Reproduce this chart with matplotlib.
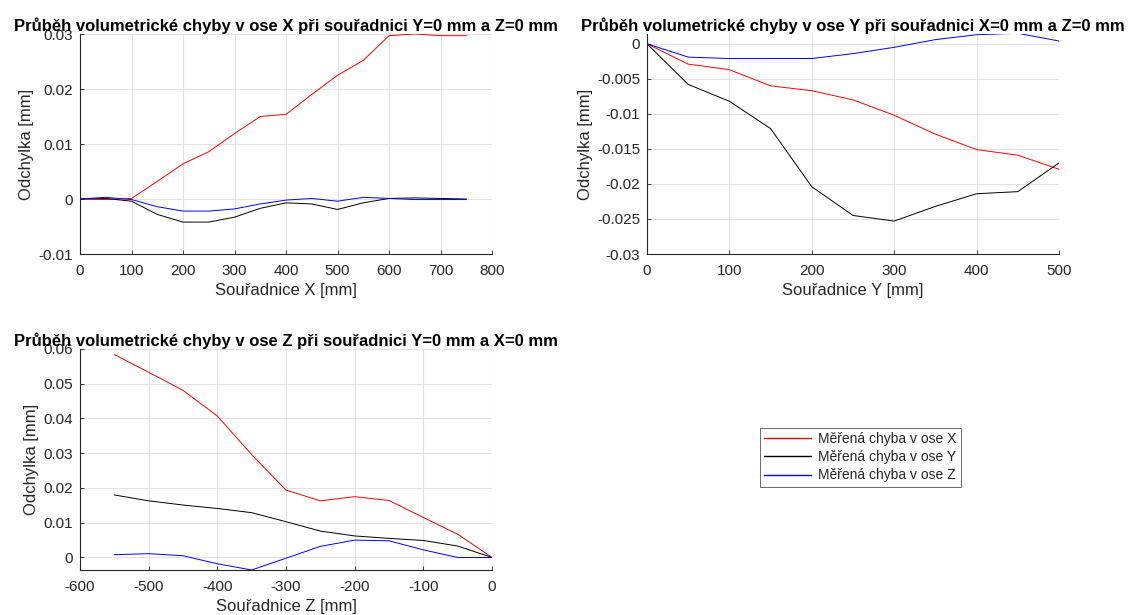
import matplotlib
matplotlib.use("Agg")
import matplotlib.pyplot as plt
from matplotlib.ticker import FuncFormatter

plt.rcParams['font.family'] = ['Liberation Sans', 'DejaVu Sans']

# osa X (Y=0, Z=0)
pos_x = [0, 50, 100, 150, 200, 250, 300, 350, 400, 450, 500, 550, 600, 650, 700, 750]
x_err_x = [0, -0.0001, 0.0001, 0.0032, 0.0064, 0.0086, 0.0119, 0.0150, 0.0154, 0.0190,
           0.0225, 0.0252, 0.0297, 0.0300, 0.0297, 0.0297]
x_err_y = [0, 0.0001, -0.0004, -0.0028, -0.0042, -0.0042, -0.0033, -0.0017, -0.0007, -0.0009,
           -0.0019, -0.0007, 0.0001, 0.0002, 0.0001, 0]
x_err_z = [0, 0.0003, -0.0001, -0.0014, -0.0022, -0.0022, -0.0018, -0.0009, -0.0002, 0.0001,
           -0.0004, 0.0003, 0.0001, -0.0001, -0.0001, -0.0001]

# osa Y (X=0, Z=0)
pos_y = [0, 50, 100, 150, 200, 250, 300, 350, 400, 450, 500]
y_err_x = [0, -0.0029, -0.0037, -0.0060, -0.0067, -0.0080, -0.0102, -0.0129, -0.0151, -0.0159, -0.0179]
y_err_y = [0, -0.0058, -0.0082, -0.0121, -0.0204, -0.0245, -0.0253, -0.0232, -0.0214, -0.0211, -0.0170]
y_err_z = [0, -0.0019, -0.0021, -0.0021, -0.0021, -0.0014, -0.0005, 0.0006, 0.0013, 0.0015, 0.0004]

# osa Z (Y=0, X=0)
pos_z = [-550, -500, -450, -400, -350, -300, -250, -200, -150, -100, -50, 0]
z_err_x = [0.0584, 0.0533, 0.0481, 0.0407, 0.0296, 0.0194, 0.0163, 0.0175, 0.0164, 0.0115, 0.0067, 0]
z_err_y = [0.0180, 0.0163, 0.0151, 0.0141, 0.0129, 0.0103, 0.0076, 0.0062, 0.0055, 0.0049, 0.0033, 0]
z_err_z = [0.0008, 0.0011, 0.0005, -0.0018, -0.0036, -0.0002, 0.0032, 0.0050, 0.0048, 0.0022, 0, 0]

labels = ["Měřená chyba v ose X", "Měřená chyba v ose Y", "Měřená chyba v ose Z"]

TXT = "#262626"
W, H = 1131, 615


def box(l, t, r, b):
    return [l / W, 1 - b / H, (r - l) / W, (b - t) / H]


def style(ax, title, xlabel, xlim, ylim, xticks, yticks):
    ax.set_xlim(*xlim)
    ax.set_ylim(*ylim)
    ax.set_xticks(xticks)
    ax.set_yticks(yticks)
    fmt = FuncFormatter(lambda v, p: "%g" % round(v, 6))
    ax.xaxis.set_major_formatter(fmt)
    ax.yaxis.set_major_formatter(fmt)
    ax.grid(True, color="#e3e3e3", linewidth=0.8)
    ax.set_axisbelow(True)
    for s in ["top", "right"]:
        ax.spines[s].set_visible(False)
    for s in ["left", "bottom"]:
        ax.spines[s].set_color(TXT)
        ax.spines[s].set_linewidth(0.8)
    ax.tick_params(direction="in", length=3, width=0.6, colors=TXT, labelsize=11)
    ax.tick_params(axis="x", pad=7)
    ax.tick_params(axis="y", pad=5)
    ax.set_title(title, fontsize=12, fontweight="bold", pad=1)
    ax.set_xlabel(xlabel, fontsize=12, color=TXT, labelpad=4)
    ax.set_ylabel("Odchylka [mm]", fontsize=12, color=TXT, labelpad=3)


fig = plt.figure(figsize=(W / 100, H / 100), dpi=100)

ax1 = fig.add_axes(box(80, 34, 492, 254))
ax1.plot(pos_x, x_err_x, color="r", lw=0.7)
ax1.plot(pos_x, x_err_y, color="k", lw=0.7)
ax1.plot(pos_x, x_err_z, color="b", lw=0.7)
style(ax1, "Průběh volumetrické chyby v ose X při souřadnici Y=0 mm a Z=0 mm",
      "Souřadnice X [mm]", (0, 800), (-0.01, 0.03),
      range(0, 801, 100), [-0.01, 0, 0.01, 0.02, 0.03])

ax2 = fig.add_axes(box(647, 34, 1059, 254))
ax2.plot(pos_y, y_err_x, color="r", lw=0.7)
ax2.plot(pos_y, y_err_y, color="k", lw=0.7)
ax2.plot(pos_y, y_err_z, color="b", lw=0.7)
style(ax2, "Průběh volumetrické chyby v ose Y při souřadnici X=0 mm a Z=0 mm",
      "Souřadnice Y [mm]", (0, 500), (-0.03, 0.0014),
      range(0, 501, 100), [-0.03, -0.025, -0.02, -0.015, -0.01, -0.005, 0])

ax3 = fig.add_axes(box(80, 349, 492, 570))
l1, = ax3.plot(pos_z, z_err_x, color="r", lw=0.7)
l2, = ax3.plot(pos_z, z_err_y, color="k", lw=0.7)
l3, = ax3.plot(pos_z, z_err_z, color="b", lw=0.7)
style(ax3, "Průběh volumetrické chyby v ose Z při souřadnici Y=0 mm a X=0 mm",
      "Souřadnice Z [mm]", (-600, 0), (-0.0036, 0.06),
      range(-600, 1, 100), [0, 0.01, 0.02, 0.03, 0.04, 0.05, 0.06])

leg = fig.legend([l1, l2, l3], labels, loc="upper left",
                 bbox_to_anchor=(760 / W, 1 - 428 / H), fontsize=10,
                 frameon=True, fancybox=False, handlelength=3.4,
                 borderpad=0.3, labelspacing=0.3, handletextpad=0.5,
                 borderaxespad=0)
leg.get_frame().set_edgecolor("#262626")
leg.get_frame().set_linewidth(0.6)
for t in leg.get_texts():
    t.set_color(TXT)
for h in leg.get_lines():
    h.set_linewidth(1.0)

fig.savefig("out.png", dpi=100)
